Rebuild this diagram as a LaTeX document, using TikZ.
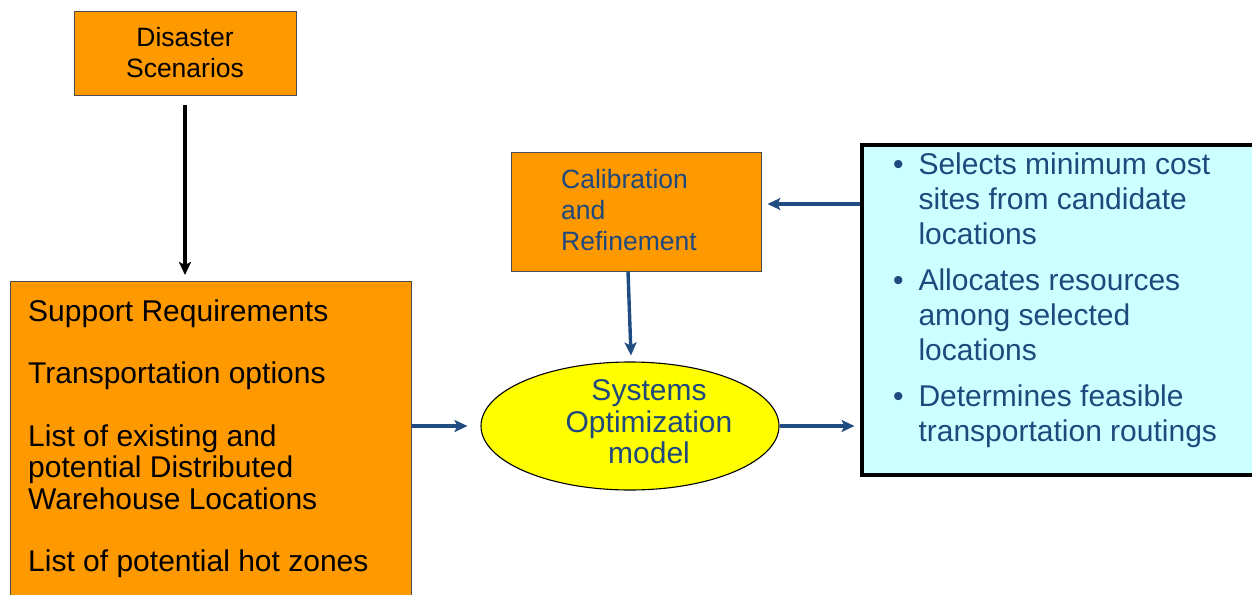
\documentclass[tikz,border=0pt]{standalone}
\usepackage{fontspec}
\setmainfont{Liberation Sans}
\usetikzlibrary{shapes.geometric,arrows.meta,calc}
\definecolor{orng}{RGB}{255,153,0}
\definecolor{dblue}{RGB}{31,73,125}
\definecolor{abue}{RGB}{33,76,130}
\definecolor{lcyan}{RGB}{204,255,255}
\definecolor{yel}{RGB}{255,255,0}
\tikzset{
  obox/.style={draw=black!70, line width=0.9pt, fill=orng, inner sep=0pt},
  barrow/.style={draw=abue, line width=3.4pt, -{Stealth[length=13pt,width=12pt,inset=3pt]}},
  karrow/.style={draw=black, line width=3.4pt, -{Stealth[length=13pt,width=12pt,inset=3pt]}},
  bigtxt/.style={font=\fontsize{30}{31.3}\selectfont, inner sep=0pt},
  midtxt/.style={font=\fontsize{26.5}{31}\selectfont, inner sep=0pt},
}
\begin{document}
\begin{tikzpicture}[x=1pt,y=-1pt]
\useasboundingbox (0,0) rectangle (1252,594);
% Disaster scenarios
\node[obox, minimum width=222pt, minimum height=84pt, midtxt, align=center] (dis) at (185,53) {Disaster\\Scenarios};
% Left requirements box
\node[obox, anchor=north west, minimum width=401pt, minimum height=340pt] (req) at (10,281) {};
\node[bigtxt, anchor=base west, align=left] (reqt) at (28,571.7)
 {Support Requirements\\[31.3pt]
  Transportation options\\[31.3pt]
  List of existing and\\
  potential Distributed\\
  Warehouse Locations\\[31.3pt]
  List of potential hot zones};
% Calibration box
\node[obox, minimum width=250pt, minimum height=119pt] (cal) at (636,211.5) {};
\node[midtxt, anchor=base west, align=left, text=dblue] (calt) at (561,250)
 {Calibration\\and\\Refinement};
% Ellipse
\node[ellipse, draw=black, line width=1.1pt, fill=yel, minimum width=298pt, minimum height=128pt, inner sep=0pt] (opt) at (630,426) {};
\node[bigtxt, anchor=base, align=center, text=dblue] (optt) at (649,463.3)
 {Systems\\Optimization\\model};
% Right box
\node[draw=black, line width=4.5pt, fill=lcyan, anchor=north west, minimum width=394.5pt, minimum height=330pt, inner sep=0pt] (rb) at (859.5,142.5) {};
\node[font=\fontsize{30}{35.3}\selectfont, inner sep=0pt, anchor=base west, align=left, text=dblue] (rbt) at (918.3,441.7)
 {\llap{\textbullet\hspace{15pt}}Selects minimum cost\\
  sites from candidate\\
  locations\\[10.3pt]
  \llap{\textbullet\hspace{15pt}}Allocates resources\\
  among selected\\
  locations\\[10.3pt]
  \llap{\textbullet\hspace{15pt}}Determines feasible\\
  transportation routings};
% Connectors
\draw[karrow, shorten <=10pt, shorten >=6pt] (dis.south) -- (dis.south |- req.north);
\coordinate (calin) at ($(cal.east)+(0,-7.5)$);
\draw[barrow, shorten >=6pt] (rb.west |- calin) -- (calin);
\draw[barrow] ($(cal.south)+(-8,0)$) -- ($(opt.north)+(1,-6)$);
\draw[barrow, shorten >=13pt] (req.east |- opt.west) -- (opt.west);
\draw[barrow, shorten >=5pt] (opt.east) -- (rb.west |- opt.east);
\end{tikzpicture}
\end{document}
